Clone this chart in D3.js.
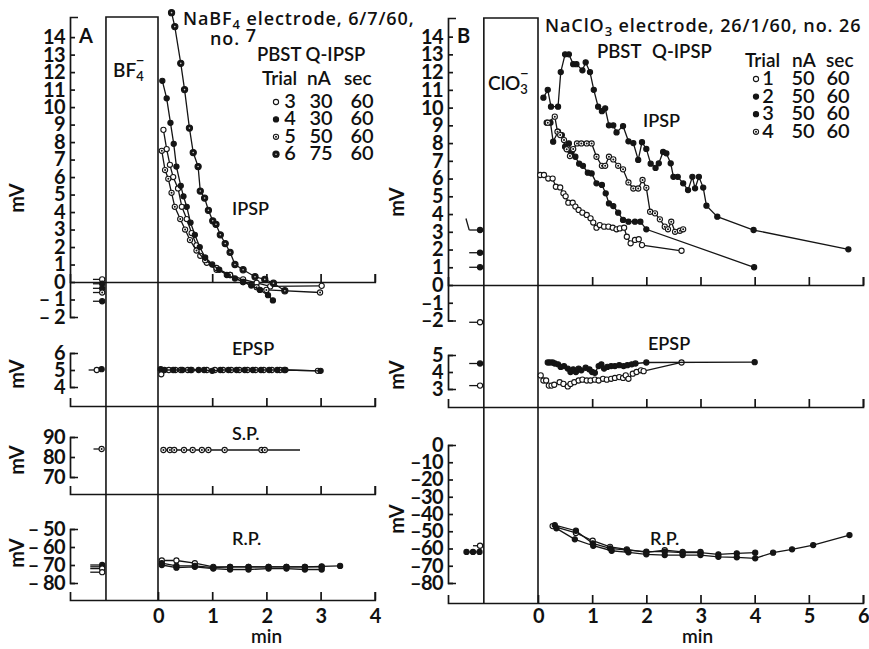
<!DOCTYPE html>
<html>
<head>
<meta charset="utf-8">
<script src="https://cdn.jsdelivr.net/npm/d3@7"></script>
<style>
  body { margin: 0; background: #fff; }
  svg { display: block; }
  text { font-family: Lato, "Open Sans", sans-serif; fill: #111; }
  text.title { font-family: "Open Sans", Lato, sans-serif; letter-spacing: 0.9px; }
</style>
</head>
<body>
<svg id="chart" width="869" height="649"></svg>
<script>
// ---- data (times in min, values in mV) ----
// Panel A: NaBF4 electrode
const injA = [-0.96, 0];
const preTA = -1.03;
const ipspA3 = [[0.10,8.7],[0.16,7.6],[0.22,6.7],[0.28,6.0],[0.37,5.35],[0.44,4.3],[0.53,3.6],[0.62,2.8],[0.71,2.1],[0.78,1.5],[0.9,1.1],[1.08,0.7],[1.33,0.4],[1.57,0.15],[1.82,-0.05],[2.07,-0.25],[3.02,-0.22]];
const ipspA4 = [[0.08,11.5],[0.16,10.5],[0.23,9.1],[0.29,7.9],[0.34,6.6],[0.42,5.5],[0.47,4.9],[0.53,4.3],[0.6,3.4],[0.68,2.7],[0.77,2.0],[0.87,1.4],[1.0,1.0],[1.13,0.7],[1.27,0.4],[1.42,0.2],[1.57,0.0],[1.72,-0.2],[1.88,-0.45],[2.03,-0.75],[2.12,-1.05]];
const ipspA5 = [[0.07,7.5],[0.13,6.4],[0.19,5.9],[0.25,5.1],[0.31,4.3],[0.41,3.6],[0.5,3.0],[0.59,2.4],[0.71,1.8],[0.87,1.25],[1.08,0.8],[1.33,0.4],[1.57,0.0],[1.82,-0.3],[2.0,-0.45],[2.99,-0.6]];
const ipspA6 = [[0.25,15.4],[0.31,14.6],[0.42,12.5],[0.49,11.0],[0.58,8.8],[0.65,7.4],[0.74,6.6],[0.78,5.2],[0.86,4.8],[0.93,4.1],[1.01,3.5],[1.07,3.3],[1.15,2.7],[1.24,2.2],[1.33,1.7],[1.42,1.0],[1.57,0.7],[1.79,0.3],[1.97,0.15],[2.13,-0.07],[2.34,-0.5]];
const ipspPreA = [0.15, -0.1, -0.36, -0.6, -1.1];
const ipspPreMarkA = ['open','filled','filled','dot','filled'];

const epspA3 = [[0.06,4.75],[0.2,5.0],[0.32,5.0],[0.42,5.0],[0.55,5.0],[0.62,5.0],[0.9,5.0],[1.05,5.0],[1.2,5.0],[1.35,5.0],[1.5,5.0],[1.65,5.0],[1.8,5.0],[1.95,5.0],[2.1,5.0],[2.25,5.0],[2.35,5.0],[2.95,4.95]];
const epspA4 = [[0.05,5.05],[0.12,5.0],[0.28,5.0],[0.45,5.0],[0.6,5.0],[0.75,5.0],[0.85,5.0],[1.0,4.95],[1.15,5.0],[1.3,5.0],[1.45,5.0],[1.6,5.0],[1.75,5.0],[1.9,5.0],[2.05,5.0],[2.2,5.0],[2.33,5.0],[3.0,4.95]];
const epspPreA = [[-1.13,5.0,'open'],[-1.04,5.05,'filled']];

const spA = [[0.1,83.5],[0.22,83.5],[0.3,83.5],[0.48,83.5],[0.64,83.5],[0.81,83.5],[0.93,83.5],[1.23,83.5],[1.91,83.5],[1.97,83.5]];
const spTailA = [2.62, 83.5];
const spPreA = [[-1.04, 84]];

const rpA1 = [[0.07,-67.5],[0.34,-67.5],[0.68,-69],[1.02,-71],[1.33,-71],[1.67,-71],[2.04,-71],[2.37,-71],[2.71,-71],[3.02,-71]];
const rpA2 = [[0.07,-69],[0.34,-70.5],[0.68,-70.5],[1.02,-71.5],[1.33,-71],[1.67,-71],[2.04,-71],[2.37,-71],[2.71,-71],[3.02,-70.8],[3.36,-70.5]];
const rpA3 = [[0.07,-70],[0.34,-71.5],[0.68,-71],[1.02,-72],[1.33,-72.5],[1.67,-72.5],[2.04,-72],[2.37,-72],[2.71,-72.5],[3.02,-72.5]];
const rpPreA = [-70, -71, -72, -74];
const rpPreMarkA = ['filled','filled','open','open'];

// Panel B: NaClO3 electrode
const injB = [-1.0, 0];
const preTB = -1.07;
const ipspB1 = [[0.04,6.2],[0.11,6.2],[0.19,6.0],[0.27,6.0],[0.33,5.54],[0.41,5.5],[0.47,5.17],[0.51,5.0],[0.56,4.64],[0.64,4.64],[0.69,4.42],[0.75,4.23],[0.82,4.08],[0.9,3.95],[0.97,3.76],[1.02,3.52],[1.08,3.23],[1.14,3.38],[1.22,3.29],[1.3,3.29],[1.38,3.23],[1.45,3.14],[1.51,3.19],[1.59,3.23],[1.64,2.72],[1.71,2.35],[1.79,2.54],[1.86,2.58],[1.92,2.25],[2.65,1.93]];
const ipspB2 = [[0.10,10.56],[0.18,11.0],[0.24,10.05],[0.37,10.05],[0.42,12.0],[0.5,13.0],[0.57,13.0],[0.65,12.45],[0.71,12.45],[0.82,12.1],[0.88,12.55],[0.96,12.0],[1.03,11.0],[1.11,10.05],[1.18,9.8],[1.24,9.96],[1.31,9.0],[1.39,9.0],[1.45,8.6],[1.57,8.96],[1.67,8.1],[1.76,8.0],[1.85,7.05],[1.92,8.05],[2.0,7.67],[2.08,6.84],[2.17,6.6],[2.23,6.86],[2.31,7.5],[2.37,7.42],[2.45,6.86],[2.5,6.1],[2.58,6.1],[2.68,5.73],[2.77,5.35],[2.85,6.1],[2.9,5.45],[2.97,6.1],[3.05,5.49],[3.11,4.47],[3.31,3.85],[3.98,3.1],[5.73,2.01]];
const ipspB3 = [[0.16,9.15],[0.23,9.15],[0.28,8.08],[0.37,8.64],[0.44,8.45],[0.5,7.8],[0.57,7.98],[0.62,7.5],[0.69,7.23],[0.76,6.84],[0.83,6.72],[0.92,6.33],[0.99,6.29],[1.08,5.73],[1.18,5.64],[1.25,5.17],[1.31,4.6],[1.39,4.45],[1.48,4.08],[1.57,3.67],[1.67,3.57],[1.79,3.57],[1.89,3.57],[2.0,3.14],[3.99,1.0]];
const ipspB4 = [[0.18,9.15],[0.31,9.49],[0.36,8.64],[0.41,8.45],[0.48,8.17],[0.53,7.65],[0.59,7.27],[0.65,7.66],[0.72,7.98],[0.8,7.98],[0.9,7.98],[0.99,7.98],[1.08,7.23],[1.18,6.72],[1.24,6.72],[1.31,7.23],[1.39,7.08],[1.48,6.72],[1.57,6.52],[1.67,5.78],[1.76,5.44],[1.85,5.44],[1.93,5.92],[2.0,5.48],[2.07,4.13],[2.16,4.04],[2.25,3.7],[2.34,3.29],[2.4,3.14],[2.46,3.57],[2.53,3.0],[2.62,3.06],[2.68,3.14]];
const ipspPreB = [[3.1,'filled'],[1.82,'filled'],[1.0,'filled'],[-2.1,'open']];
const ipspLeadB = [[-1.33,3.75],[-1.27,3.1]];

const epspB1 = [[0.05,3.8],[0.1,3.5],[0.15,3.5],[0.2,3.2],[0.25,3.2],[0.3,3.25],[0.4,3.4],[0.47,3.3],[0.55,3.15],[0.6,3.3],[0.67,3.4],[0.75,3.5],[0.82,3.55],[0.9,3.5],[0.97,3.5],[1.05,3.55],[1.12,3.5],[1.2,3.6],[1.27,3.55],[1.35,3.6],[1.42,3.65],[1.5,3.7],[1.57,3.65],[1.62,3.8],[1.67,3.6],[1.75,3.9],[1.82,4.0],[1.9,4.1],[1.95,4.05],[2.65,4.56]];
const epspB2 = [[0.18,4.56],[0.22,4.56],[0.27,4.56],[0.31,4.5],[0.37,4.45],[0.42,4.3],[0.48,4.35],[0.55,4.2],[0.6,4.0],[0.65,4.15],[0.7,4.0],[0.75,4.2],[0.8,4.1],[0.88,4.25],[0.95,4.15],[1.0,4.0],[1.05,3.95],[1.12,4.35],[1.17,4.45],[1.22,4.2],[1.28,4.3],[1.35,4.35],[1.42,4.35],[1.5,4.4],[1.58,4.35],[1.65,4.4],[1.73,4.45],[1.8,4.5],[2.0,4.56],[4.0,4.58]];
const epspPreB = [[4.5,'filled'],[3.2,'open']];

const rpB1 = [[0.27,-47],[0.7,-51],[1.01,-55.5],[1.33,-59],[1.64,-60.5],[2.0,-62.2],[2.34,-61],[2.67,-62],[3.0,-62]];
const rpB2 = [[0.31,-46.4],[0.7,-49.7],[1.01,-57],[1.33,-59.9],[1.64,-60.9],[2.0,-61.8],[2.34,-61.8],[2.67,-62.4],[3.0,-62.4],[3.33,-63.4],[3.67,-62.8],[4.01,-62.4]];
const rpB3 = [[0.34,-48.3],[0.68,-54.7],[1.02,-58.4],[1.36,-61.3],[1.67,-62.2],[2.0,-63.4],[2.34,-63.8],[2.67,-63.8],[3.0,-63.8],[3.33,-64.8],[3.67,-65.1],[4.01,-65.7],[4.34,-62.4],[4.69,-60.5],[5.08,-58],[5.75,-52.2]];
const rpPreFilledB = [[-1.32,-62],[-1.2,-62],[-1.08,-62]];
const rpPreOpenB = [[-1.2,-58.4],[-1.07,-58.4]];

// tick labels / legends
const ipspTicks = [-2,-1,0,1,2,3,4,5,6,7,8,9,10,11,12,13,14];
const minTicksA = [0,1,2,3,4];
const minTicksB = [0,1,2,3,4,5,6];
const legendA = [['open','3','30','60'],['filled','4','30','60'],['dot','5','50','60'],['ring','6','75','60']];
const legendB = [['open','1','50','60'],['filled','2','50','60'],['filled','3','50','60'],['dot','4','50','60']];

// ---- scales ----
const xA = d3.scaleLinear().domain([0,4]).range([158,374.8]);
const xB = d3.scaleLinear().domain([0,6]).range([538,863]);

const yIpspA = d3.scaleLinear().domain([-2,15.15]).range([317,17]);
const yEpspA = d3.scaleLinear().domain([4,6]).range([387,353]);
const ySpA   = d3.scaleLinear().domain([70,90]).range([477,437]);
const yRpA   = d3.scaleLinear().domain([-80,-50]).range([583,529]);

const yIpspB = d3.scaleLinear().domain([-2,15.05]).range([320.5,18]);
const yEpspB = d3.scaleLinear().domain([3,5]).range([389,355]);
const yRpB   = d3.scaleLinear().domain([-80,0]).range([583,445]);

const svg = d3.select('#chart');
const ink = '#151515';

// ---- helpers ----
function dots(data, x, y, mark) {
  const g = svg.append('g');
  g.selectAll('circle.m').data(data).join('circle').attr('class','m')
    .attr('cx', d => x(d[0])).attr('cy', d => y(d[1]))
    .attr('r', mark === 'ring' ? 3.1 : 2.6)
    .attr('fill', (mark === 'open' || mark === 'dot') ? '#fff' : ink)
    .attr('stroke', ink).attr('stroke-width', 1.1);
  if (mark === 'dot' || mark === 'ring') {
    g.selectAll('circle.c').data(data).join('circle').attr('class','c')
      .attr('cx', d => x(d[0])).attr('cy', d => y(d[1]))
      .attr('r', mark === 'dot' ? 1 : 0.8)
      .attr('fill', mark === 'dot' ? ink : '#ccc');
  }
}
function trace(data, x, y, mark, tail) {
  const pts = tail ? data.concat([tail]) : data;
  svg.append('path').datum(pts)
    .attr('d', d3.line().x(d => x(d[0])).y(d => y(d[1])))
    .attr('fill','none').attr('stroke', ink).attr('stroke-width', 1.3);
  if (mark) dots(data, x, y, mark);
}
function styleAxis(g) {
  g.attr('font-family', null).attr('font-size', null);
  g.selectAll('path,line').attr('stroke', ink).attr('stroke-width', 1.7);
  g.selectAll('text').attr('font-size', 20).attr('font-weight', 700)
    .attr('letter-spacing', -0.6).attr('fill', ink);
}
function yAxis(scale, x, ticks, fmt) {
  svg.append('g').attr('transform', `translate(${x},0)`)
    .call(d3.axisLeft(scale).tickValues(ticks).tickSize(-5).tickSizeOuter(-8)
      .tickPadding(5).tickFormat(fmt))
    .call(styleAxis);
}
function xAxis(x, y, spineX, ticks, labelled, pad) {
  const s = x.copy().domain([x.invert(spineX), x.domain()[1]]).range([spineX, x.range()[1]]);
  svg.append('g').attr('transform', `translate(0,${y})`)
    .call(d3.axisBottom(s).tickValues(ticks).tickSize(-8).tickSizeOuter(-8)
      .tickPadding(pad || 10).tickFormat(labelled ? d3.format('d') : ''))
    .call(styleAxis);
}
function label(txt, x, y, opts) {
  const o = opts || {};
  return svg.append('text').attr('x', x).attr('y', y).text(txt)
    .attr('class', o.cls || null)
    .attr('font-size', o.size || 18).attr('font-weight', o.weight || 600)
    .attr('text-anchor', o.anchor || 'start');
}
function mV(x, y) {
  svg.append('text').attr('transform', `translate(${x},${y}) rotate(-90)`)
    .attr('text-anchor','middle').attr('font-size', 20).attr('font-weight', 700).text('mV');
}
function preLine(t, v, x, y, lead, mark) {
  trace([[t - lead, v], [t, v]], x, y, null);
  dots([[t, v]], x, y, mark);
}

const fmtA = d => d < 0 ? '\u2013 ' + Math.abs(d) : String(d);
const fmtB = d => d < 0 ? '\u2013' + Math.abs(d) : String(d);

// ---- injection boxes / time-zero lines ----
function box(x, inj, top, bottom) {
  svg.append('path')
    .attr('d', `M${x(inj[0])},${bottom}V${top}H${x(inj[1])}V${bottom}`)
    .attr('fill','none').attr('stroke', ink).attr('stroke-width', 1.6);
}
box(xA, injA, yIpspA.range()[1], 600);
box(xB, injB, yIpspB.range()[1], 603);

// ---- Panel A axes ----
const spineA = 70, spineB = 448;
yAxis(yIpspA, spineA, ipspTicks, fmtA);
yAxis(yEpspA, spineA, [4,5,6], fmtA);
yAxis(ySpA, spineA, [70,80,90], fmtA);
yAxis(yRpA, spineA, [-80,-70,-60,-50], fmtA);
xAxis(xA, yIpspA(0), spineA, [1,2,3,4], false);
xAxis(xA, 406, spineA, [1,2,3,4], false);
xAxis(xA, 494, spineA, [1,2,3,4], false);
xAxis(xA, 600, spineA, minTicksA, true, 9);

// ---- Panel B axes ----
yAxis(yIpspB, spineB, ipspTicks, fmtB);
yAxis(yEpspB, spineB, [3,4,5], fmtB);
yAxis(yRpB, spineB, [-80,-70,-60,-50,-40,-30,-20,-10,0], fmtB);
xAxis(xB, yIpspB(0), spineB, [1,2,3,4,5,6], false);
xAxis(xB, 407, spineB, [1,2,3,4,5,6], false);
xAxis(xB, 603, spineB, minTicksB, true, 6);

// ---- Panel A data ----
trace(ipspA3, xA, yIpspA, 'open');
trace(ipspA5, xA, yIpspA, 'dot');
trace(ipspA4, xA, yIpspA, 'filled');
trace(ipspA6, xA, yIpspA, 'ring');
ipspPreA.forEach((v, i) => preLine(preTA, v, xA, yIpspA, 0.17, ipspPreMarkA[i]));

trace(epspA3, xA, yEpspA, 'open');
trace(epspA4, xA, yEpspA, 'filled');
trace([[epspPreA[0][0] - 0.15, 5.0], [epspPreA[1][0], 5.0]], xA, yEpspA, null);
epspPreA.forEach(p => dots([p], xA, yEpspA, p[2]));

trace(spA, xA, ySpA, 'dot', spTailA);
spPreA.forEach(p => preLine(p[0], p[1], xA, ySpA, 0.15, 'dot'));

trace(rpA1, xA, yRpA, 'open');
trace(rpA3, xA, yRpA, 'filled');
trace(rpA2, xA, yRpA, 'filled');
rpPreA.forEach((v, i) => preLine(preTA, v, xA, yRpA, 0.22, rpPreMarkA[i]));

// ---- Panel B data ----
trace(ipspB1, xB, yIpspB, 'open');
trace(ipspB3, xB, yIpspB, 'filled');
trace(ipspB4, xB, yIpspB, 'dot');
trace(ipspB2, xB, yIpspB, 'filled');
trace(ipspLeadB, xB, yIpspB, null);
ipspPreB.forEach(p => preLine(preTB, p[0], xB, yIpspB, 0.2, p[1]));

trace(epspB1, xB, yEpspB, 'open');
trace(epspB2, xB, yEpspB, 'filled');
epspPreB.forEach(p => preLine(preTB, p[0], xB, yEpspB, 0.2, p[1]));

trace(rpB1, xB, yRpB, 'open');
trace(rpB2, xB, yRpB, 'filled');
trace(rpB3, xB, yRpB, 'filled');
trace(rpPreFilledB, xB, yRpB, 'filled');
trace(rpPreOpenB, xB, yRpB, null);
dots([rpPreOpenB[1]], xB, yRpB, 'open');

// ---- text ----
label('A', 79, 43, {size: 20, weight: 700});
label('B', 457, 43, {size: 20, weight: 700});

const bf = label('BF', 113, 77, {size: 19});
bf.append('tspan').attr('font-size', 13).attr('dy', 4).text('4');
bf.append('tspan').attr('font-size', 15).attr('dx', -8).attr('dy', -15).text('\u2212');
const clo = label('ClO', 488, 90, {size: 19});
clo.append('tspan').attr('font-size', 13).attr('dy', 4).text('3');
clo.append('tspan').attr('font-size', 15).attr('dx', -8).attr('dy', -15).text('\u2212');

const tA = label('NaBF', 183, 25, {size: 18, weight: 600, cls: 'title'});
tA.append('tspan').attr('font-size', 13).attr('dy', 4).text('4');
tA.append('tspan').attr('dy', -4).text(' electrode, 6/7/60,');
const noA = label('no. ', 210, 45, {size: 18, weight: 600, cls: 'title'});
noA.append('tspan').attr('dy', -3).text('7');
label('PBST Q-IPSP', 257, 61, {size: 18.5, weight: 600});

const tB = label('NaClO', 545, 32, {size: 18, weight: 600, cls: 'title'});
tB.append('tspan').attr('font-size', 13).attr('dy', 4).text('3');
tB.append('tspan').attr('dy', -4).text(' electrode, 26/1/60, no. 26');
label('PBST', 597, 58, {size: 18.5, weight: 600});
label('Q-IPSP', 652, 58, {size: 18.5, weight: 600});

// legends
function legend(items, hdr, cols, y0, dy, symX) {
  label('Trial', hdr[0], hdr[3], {size: 19, weight: 600});
  label('nA', hdr[1], hdr[3], {size: 19, weight: 600});
  label('sec', hdr[2], hdr[3], {size: 19, weight: 600});
  items.forEach((r, i) => {
    const yb = y0 + i * dy;
    dots([[symX, yb - 6]], d => d, d => d, r[0]);
    label(r[1], cols[0], yb, {size: 20, weight: 600, anchor: 'middle'});
    label(r[2], cols[1], yb, {size: 20, weight: 600, anchor: 'middle'});
    label(r[3], cols[2], yb, {size: 20, weight: 600, anchor: 'middle'});
  });
}
legend(legendA, [262, 307, 344, 85], [290, 321, 362], 108, 17.4, 276);
legend(legendB, [745, 792, 826, 67], [768, 803, 838], 85, 17.6, 756);

label('IPSP', 232, 215);
label('EPSP', 232, 355);
label('S.P.', 232, 440);
label('R.P.', 232, 545);
label('IPSP', 643, 127);
label('EPSP', 648, 350);
label('R.P.', 650, 545);

label('min', 251, 643, {size: 19, weight: 600});
label('min', 682, 643, {size: 19, weight: 600});

mV(24, 198); mV(24, 374); mV(24, 460); mV(24, 553);
mV(404, 202); mV(404, 375); mV(404, 519);
</script>
</body>
</html>
